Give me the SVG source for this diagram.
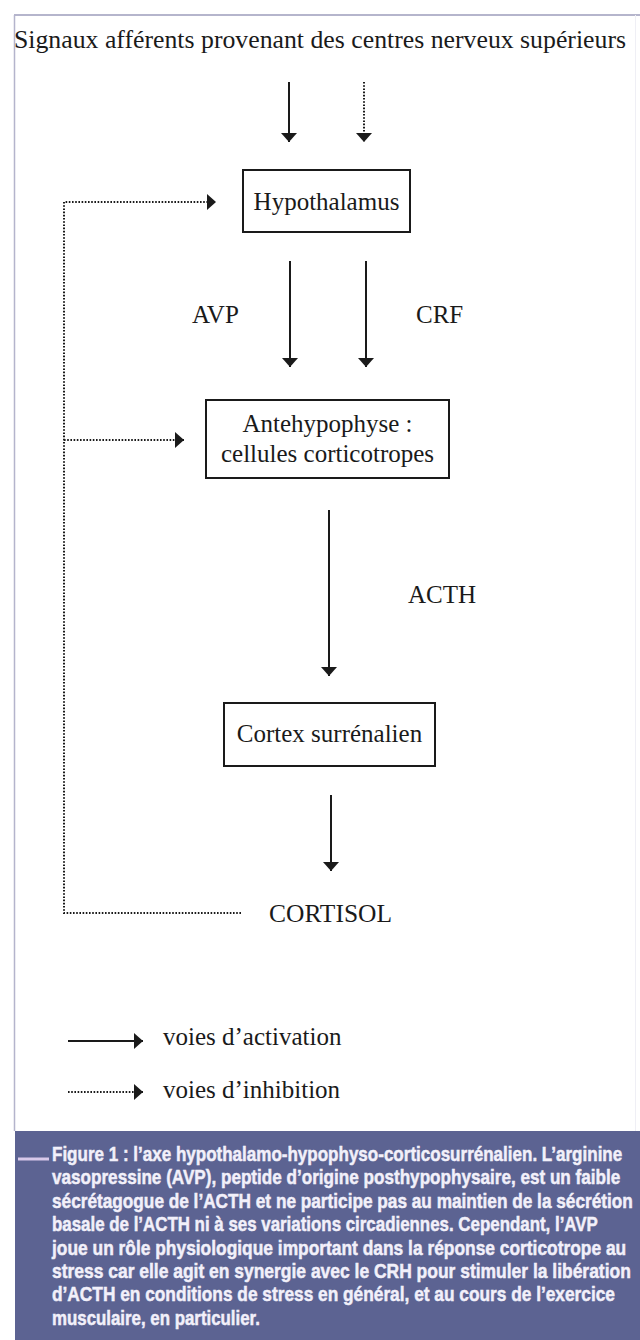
<svg xmlns="http://www.w3.org/2000/svg" width="640" height="1340" viewBox="0 0 640 1340">
  <style>
    .serif { font-family: "Liberation Serif", "Times New Roman", serif; font-size: 25px; fill: #1a1a1a; }
    .box { fill: #ffffff; stroke: #1a1a1a; stroke-width: 2; }
    .solid { fill: none; stroke: #1a1a1a; stroke-width: 2; }
    .dotted { fill: none; stroke: #1a1a1a; stroke-width: 2; stroke-dasharray: 1.6 1.6; }
    .cap { font-family: "Liberation Sans", Arial, sans-serif; font-weight: bold; font-size: 21px; fill: #f2f0fa; stroke: #f2f0fa; stroke-width: 0.5; }
  </style>
  <defs>
    <marker id="head" viewBox="0 0 9 16" refX="9" refY="8" markerWidth="9" markerHeight="16" markerUnits="userSpaceOnUse" orient="auto">
      <path d="M0,0 L9,8 L0,16 Z" fill="#1a1a1a"/>
    </marker>
  </defs>

  <rect x="0" y="0" width="640" height="1340" fill="#ffffff"/>

  <!-- frame -->
  <g id="frame">
    <line x1="14" y1="15" x2="640" y2="15" stroke="#9d9dbb" stroke-width="1.5"/>
    <line x1="14.5" y1="15" x2="14.5" y2="1131" stroke="#b4b4cc" stroke-width="1.5"/>
    <line x1="635.5" y1="15" x2="635.5" y2="1131" stroke="#efeff5" stroke-width="1"/>
  </g>

  <g id="title">
    <text class="serif" x="14" y="48" textLength="612" lengthAdjust="spacingAndGlyphs">Signaux afférents provenant des centres nerveux supérieurs</text>
  </g>

  <g id="hypothalamus">
    <rect class="box" x="243" y="170" width="167" height="62"/>
    <text class="serif" x="326.5" y="210" text-anchor="middle">Hypothalamus</text>
  </g>

  <g id="antehypophyse">
    <rect class="box" x="206" y="400" width="243" height="78"/>
    <text class="serif" x="327.5" y="432" text-anchor="middle">Antehypophyse :</text>
    <text class="serif" x="327.5" y="462" text-anchor="middle">cellules corticotropes</text>
  </g>

  <g id="cortex">
    <rect class="box" x="224" y="703" width="211" height="63"/>
    <text class="serif" x="329.5" y="742" text-anchor="middle">Cortex surrénalien</text>
  </g>

  <g id="cortisol">
    <text class="serif" x="269" y="922" textLength="123" lengthAdjust="spacingAndGlyphs">CORTISOL</text>
  </g>

  <g id="connectors">
    <line class="solid" x1="289" y1="82" x2="289" y2="142" marker-end="url(#head)"/>
    <line class="dotted" x1="364" y1="82" x2="364" y2="142" marker-end="url(#head)"/>
    <line class="solid" x1="290" y1="261" x2="290" y2="367" marker-end="url(#head)"/>
    <line class="solid" x1="366" y1="261" x2="366" y2="367" marker-end="url(#head)"/>
    <line class="solid" x1="329" y1="510" x2="329" y2="676" marker-end="url(#head)"/>
    <line class="solid" x1="331" y1="795" x2="331" y2="871" marker-end="url(#head)"/>
    <path class="dotted" d="M241,913 H64 V202 H216" marker-end="url(#head)"/>
    <path class="dotted" d="M64,440 H184" marker-end="url(#head)"/>
    <text class="serif" x="192" y="323">AVP</text>
    <text class="serif" x="416" y="323">CRF</text>
    <text class="serif" x="408" y="603">ACTH</text>
  </g>

  <g id="legend">
    <line class="solid" x1="68" y1="1041" x2="143" y2="1041" marker-end="url(#head)"/>
    <text class="serif" x="163" y="1045">voies d’activation</text>
    <line class="dotted" x1="68" y1="1092" x2="143" y2="1092" marker-end="url(#head)"/>
    <text class="serif" x="163" y="1098">voies d’inhibition</text>
  </g>

  <g id="caption">
    <rect x="15" y="1131" width="625" height="209" fill="#5c6392"/>
    <line x1="18" y1="1159" x2="49" y2="1159" stroke="#d8c9ea" stroke-width="3"/>
    <g transform="translate(52 0) scale(0.66 1)">
      <text class="cap" x="0" y="1161" textLength="864" lengthAdjust="spacingAndGlyphs">Figure 1 : l’axe hypothalamo-hypophyso-corticosurrénalien. L’arginine</text>
      <text class="cap" x="0" y="1184.4" textLength="861" lengthAdjust="spacingAndGlyphs">vasopressine (AVP), peptide d’origine posthypophysaire, est un faible</text>
      <text class="cap" x="0" y="1207.8" textLength="880" lengthAdjust="spacingAndGlyphs">sécrétagogue de l’ACTH et ne participe pas au maintien de la sécrétion</text>
      <text class="cap" x="0" y="1231.2" textLength="827" lengthAdjust="spacingAndGlyphs">basale de l’ACTH ni à ses variations circadiennes. Cependant, l’AVP</text>
      <text class="cap" x="0" y="1254.6" textLength="870" lengthAdjust="spacingAndGlyphs">joue un rôle physiologique important dans la réponse corticotrope au</text>
      <text class="cap" x="0" y="1278" textLength="877" lengthAdjust="spacingAndGlyphs">stress car elle agit en synergie avec le CRH pour stimuler la libération</text>
      <text class="cap" x="0" y="1301.4" textLength="853" lengthAdjust="spacingAndGlyphs">d’ACTH en conditions de stress en général, et au cours de l’exercice</text>
      <text class="cap" x="0" y="1324.8" textLength="315" lengthAdjust="spacingAndGlyphs">musculaire, en particulier.</text>
    </g>
  </g>
</svg>
